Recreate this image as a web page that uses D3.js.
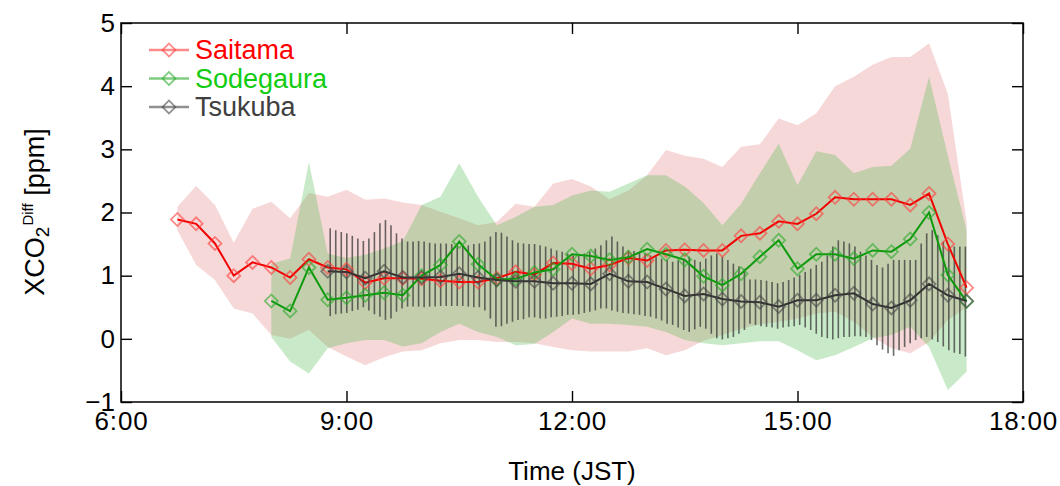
<!DOCTYPE html>
<html>
<head>
<meta charset="utf-8">
<script src="https://cdn.jsdelivr.net/npm/d3@7"></script>
<style>
  body { margin: 0; background: #fff; }
  svg { display: block; font-family: "Liberation Sans", Arial, Helvetica, sans-serif; }
</style>
</head>
<body>
<div id="chart-container"></div>
<script>
// 15 min steps, Saitama covers all of them
const times = ["6:45", "7:00", "7:15", "7:30", "7:45", "8:00", "8:15", "8:30", "8:45", "9:00",
  "9:15", "9:30", "9:45", "10:00", "10:15", "10:30", "10:45", "11:00", "11:15", "11:30",
  "11:45", "12:00", "12:15", "12:30", "12:45", "13:00", "13:15", "13:30", "13:45", "14:00",
  "14:15", "14:30", "14:45", "15:00", "15:15", "15:30", "15:45", "16:00", "16:15", "16:30",
  "16:45", "17:00", "17:15"]

const saitamaMean = [1.89, 1.82, 1.51, 1.00, 1.21, 1.13, 0.97, 1.26, 1.13, 1.10,
  0.89, 0.96, 0.96, 0.95, 0.92, 0.90, 0.90, 0.96, 1.06, 1.02,
  1.20, 1.19, 1.11, 1.17, 1.28, 1.24, 1.40, 1.41, 1.40, 1.40,
  1.63, 1.67, 1.86, 1.82, 1.98, 2.24, 2.21, 2.21, 2.21, 2.12,
  2.30, 1.50, 0.81]
const saitamaUpper = [2.09, 2.42, 2.12, 1.52, 2.06, 2.17, 1.91, 2.31, 2.25, 2.36,
  2.20, 2.22, 2.16, 2.12, 2.01, 1.91, 1.80, 1.85, 2.14, 2.09,
  2.46, 2.53, 2.41, 2.21, 2.35, 2.59, 2.99, 2.90, 2.85, 2.72,
  3.04, 3.08, 3.49, 3.38, 3.57, 4.00, 4.15, 4.34, 4.46, 4.46,
  4.68, 3.88, 1.85]
const saitamaLower = [1.72, 1.17, 0.93, 0.48, 0.40, 0.06, 0.00, 0.14, -0.13, -0.28,
  -0.42, -0.29, -0.20, -0.18, -0.07, -0.02, -0.02, -0.05, -0.05, -0.07,
  -0.13, -0.18, -0.20, -0.20, -0.20, -0.15, -0.26, -0.18, -0.03, 0.06,
  0.16, 0.23, 0.27, 0.32, 0.40, 0.43, 0.27, 0.03, -0.15, -0.23,
  -0.05, 0.30, 0.50]

// Sodegaura starts at 8:00
const sodegauraTimes = times.slice(5)
const sodegauraMean = [0.60, 0.44, 1.13, 0.62, 0.65, 0.69, 0.73, 0.69, 1.00, 1.17,
  1.54, 1.18, 0.94, 0.95, 1.05, 1.10, 1.34, 1.31, 1.25, 1.29,
  1.42, 1.34, 1.25, 0.99, 0.85, 1.03, 1.30, 1.56, 1.11, 1.34,
  1.34, 1.27, 1.40, 1.38, 1.58, 2.00, 1.01, 0.59]
const sodegauraUpper = [1.19, 1.27, 2.80, 1.35, 1.28, 1.33, 1.43, 1.55, 2.12, 2.25,
  2.78, 2.25, 1.80, 1.93, 2.09, 2.12, 2.27, 2.35, 2.33, 2.46,
  2.59, 2.59, 2.41, 2.15, 1.80, 2.14, 2.62, 3.09, 2.43, 2.97,
  2.91, 2.62, 2.72, 2.74, 3.01, 4.15, 2.90, 1.72]
const sodegauraLower = [0.03, -0.36, -0.55, -0.15, -0.07, -0.02, -0.02, -0.12, -0.07, 0.11,
  0.24, 0.11, 0.03, -0.10, -0.08, 0.11, 0.32, 0.24, 0.24, 0.22,
  0.19, 0.11, -0.02, -0.07, -0.10, -0.07, -0.04, -0.04, -0.18, -0.34,
  -0.26, -0.13, 0.01, 0.06, 0.19, -0.13, -0.81, -0.52]

// Tsukuba starts at 8:45
const tsukubaTimes = times.slice(8)
const tsukubaMean = [1.07, 1.06, 0.96, 1.07, 0.97, 0.97, 0.98, 1.03, 0.97, 0.93,
  0.91, 0.91, 0.88, 0.88, 0.87, 1.03, 0.91, 0.90, 0.79, 0.68,
  0.71, 0.63, 0.59, 0.58, 0.51, 0.61, 0.61, 0.69, 0.72, 0.55,
  0.49, 0.61, 0.87, 0.69, 0.60]

// Tsukuba spread, finer time resolution than the means
const barFirstTime = "8:47"
const barLastTime = "17:14"
const tsukubaBarTop = [1.75, 1.72, 1.69, 1.67, 1.63, 1.59, 1.55, 1.59, 1.69, 1.83,
  1.88, 1.80, 1.67, 1.59, 1.54, 1.54, 1.55, 1.54, 1.52, 1.51,
  1.51, 1.51, 1.50, 1.50, 1.48, 1.48, 1.50, 1.51, 1.54, 1.62,
  1.69, 1.68, 1.62, 1.56, 1.52, 1.51, 1.50, 1.50, 1.48, 1.46,
  1.43, 1.40, 1.38, 1.35, 1.32, 1.31, 1.35, 1.38, 1.43, 1.48,
  1.56, 1.62, 1.54, 1.46, 1.40, 1.39, 1.38, 1.35, 1.32, 1.30,
  1.27, 1.25, 1.22, 1.24, 1.27, 1.30, 1.25, 1.22, 1.27, 1.32,
  1.35, 1.30, 1.25, 1.19, 1.15, 1.11, 0.94, 0.94, 0.93, 0.92,
  0.90, 0.88, 0.90, 0.93, 0.97, 1.01, 1.06, 1.11, 1.17, 1.22,
  1.32, 1.46, 1.56, 1.54, 1.51, 1.46, 1.38, 1.32, 1.25, 1.17,
  1.13, 1.19, 1.25, 1.25, 1.25, 1.25, 1.25, 1.51, 1.67, 1.72,
  1.64, 1.54, 1.47, 1.46, 1.46, 1.46]
const tsukubaBarBottom = [0.36, 0.39, 0.40, 0.41, 0.44, 0.46, 0.50, 0.45, 0.39, 0.35,
  0.30, 0.32, 0.43, 0.48, 0.51, 0.51, 0.51, 0.50, 0.51, 0.51,
  0.52, 0.52, 0.52, 0.52, 0.52, 0.51, 0.50, 0.50, 0.45, 0.32,
  0.19, 0.20, 0.24, 0.27, 0.30, 0.31, 0.34, 0.34, 0.32, 0.32,
  0.34, 0.35, 0.36, 0.38, 0.38, 0.39, 0.41, 0.43, 0.45, 0.48,
  0.48, 0.45, 0.43, 0.41, 0.40, 0.39, 0.38, 0.36, 0.35, 0.32,
  0.29, 0.24, 0.22, 0.18, 0.14, 0.11, 0.15, 0.19, 0.16, 0.08,
  0.01, -0.01, 0.01, 0.03, 0.08, 0.14, 0.24, 0.22, 0.20, 0.19,
  0.18, 0.16, 0.18, 0.19, 0.20, 0.22, 0.18, 0.14, 0.08, 0.03,
  0.01, -0.01, 0.01, 0.03, 0.03, 0.04, 0.04, 0.03, -0.02, -0.10,
  -0.17, -0.23, -0.27, -0.18, -0.13, -0.07, -0.02, 0.01, 0.03, -0.01,
  -0.05, -0.12, -0.18, -0.22, -0.24, -0.28]

const xTicks = ["6:00", "9:00", "12:00", "15:00", "18:00"]
const yTicks = [-1, 0, 1, 2, 3, 4, 5]
const xDomain = ["6:00", "18:00"]
const yDomain = [-1, 5]

const parseTime = d3.timeParse("%H:%M")

const width = 1060
const height = 486
const margin = { top: 23, right: 37, bottom: 84, left: 121 }
const plotW = width - margin.left - margin.right
const plotH = height - margin.top - margin.bottom

const series = [
  { name: "Saitama", times: times, mean: saitamaMean, upper: saitamaUpper, lower: saitamaLower,
    line: "#f20000", marker: "rgba(255,60,60,0.6)", band: "rgb(222,90,90)", text: "#ff0000" },
  { name: "Sodegaura", times: sodegauraTimes, mean: sodegauraMean, upper: sodegauraUpper, lower: sodegauraLower,
    line: "#0c9a0c", marker: "rgba(40,170,40,0.6)", band: "rgb(60,180,60)", text: "#11cc11" },
  { name: "Tsukuba", times: tsukubaTimes, mean: tsukubaMean,
    line: "#333333", marker: "rgba(70,70,70,0.6)", text: "#404040" }
]

const svg = d3.select("#chart-container")
    .append("svg")
    .attr("width", width)
    .attr("height", height)

const g = svg.append("g")
    .attr("transform", `translate(${margin.left},${margin.top})`)

const x = d3.scaleTime()
    .domain(xDomain.map(parseTime))
    .range([0, plotW])

const y = d3.scaleLinear()
    .domain(yDomain)
    .range([plotH, 0])

// shaded spread of Saitama and Sodegaura
const area = d3.area()
    .x(d => x(d.t))
    .y0(d => y(d.lo))
    .y1(d => y(d.hi))

series.filter(s => s.upper).forEach(s => {
  const rows = s.times.map((t, i) => ({ t: parseTime(t), lo: s.lower[i], hi: s.upper[i] }))
  g.append("path")
      .datum(rows)
      .attr("d", area)
      .attr("fill", s.band)
      .attr("fill-opacity", s.name === "Saitama" ? 0.24 : 0.28)
})

// Tsukuba vertical spread bars
const barX = d3.scalePoint()
    .domain(d3.range(tsukubaBarTop.length))
    .range([x(parseTime(barFirstTime)), x(parseTime(barLastTime))])

g.append("g")
    .selectAll("line")
    .data(tsukubaBarTop.map((top, i) => ({ i: i, top: top, bottom: tsukubaBarBottom[i] })))
    .join("line")
    .attr("x1", d => barX(d.i))
    .attr("x2", d => barX(d.i))
    .attr("y1", d => y(d.top))
    .attr("y2", d => y(d.bottom))
    .attr("stroke", "#3a3a3a")
    .attr("stroke-opacity", 0.75)
    .attr("stroke-width", 1.6)

const line = d3.line()
    .x(d => x(d.t))
    .y(d => y(d.v))

const diamond = d3.symbol(d3.symbolSquare, 84)

series.forEach(s => {
  const rows = s.times.map((t, i) => ({ t: parseTime(t), v: s.mean[i] }))
  g.append("path")
      .datum(rows)
      .attr("d", line)
      .attr("fill", "none")
      .attr("stroke", s.line)
      .attr("stroke-width", 2)

  g.append("g")
      .selectAll("path")
      .data(rows)
      .join("path")
      .attr("d", diamond)
      .attr("transform", d => `translate(${x(d.t)},${y(d.v)}) rotate(45)`)
      .attr("fill", "none")
      .attr("stroke", s.marker)
      .attr("stroke-width", 1.8)
})

// frame with inward ticks on all sides
const tickLen = 11
const xTickValues = xTicks.map(parseTime)

const styleAxis = sel => {
  sel.select(".domain").remove()
  sel.selectAll(".tick line").attr("stroke", "#000").attr("stroke-width", 1.4)
  sel.selectAll("text").attr("fill", "#000").style("font-size", "26px")
}

g.append("g")
    .attr("transform", `translate(0,${plotH})`)
    .call(d3.axisBottom(x).tickValues(xTickValues).tickFormat(d3.timeFormat("%-H:%M"))
        .tickSize(-tickLen).tickPadding(10))
    .call(styleAxis)
    .call(sel => sel.selectAll("text").style("letter-spacing", "0.8px"))

g.append("g")
    .call(d3.axisTop(x).tickValues(xTickValues).tickFormat("").tickSize(-tickLen))
    .call(styleAxis)

g.append("g")
    .call(d3.axisLeft(y).tickValues(yTicks).tickFormat(d3.format("d")).tickSize(-tickLen).tickPadding(6))
    .call(styleAxis)

g.append("g")
    .attr("transform", `translate(${plotW},0)`)
    .call(d3.axisRight(y).tickValues(yTicks).tickFormat("").tickSize(-tickLen))
    .call(styleAxis)

g.append("rect")
    .attr("width", plotW)
    .attr("height", plotH)
    .attr("fill", "none")
    .attr("stroke", "#000")
    .attr("stroke-width", 1.5)

// axis titles
svg.append("text")
    .attr("x", margin.left + plotW / 2)
    .attr("y", 480)
    .attr("text-anchor", "middle")
    .style("font-size", "26px")
    .text("Time (JST)")

const yTitle = svg.append("text")
    .attr("transform", "translate(44,212) rotate(-90)")
    .attr("text-anchor", "middle")
    .style("font-size", "27px")

yTitle.append("tspan").text("XCO")
yTitle.append("tspan").attr("dy", 5).style("font-size", "19px").text("2")
yTitle.append("tspan").attr("dy", -16).attr("dx", 1).style("font-size", "15px").text("Diff")
yTitle.append("tspan").attr("dy", 11).text(" [ppm]")

// legend
const legend = svg.append("g")
    .attr("transform", "translate(149,50)")

series.forEach((s, i) => {
  const row = legend.append("g").attr("transform", `translate(0,${i * 28.5})`)
  row.append("line")
      .attr("x1", 0)
      .attr("x2", 40)
      .attr("stroke", s.marker)
      .attr("stroke-width", 2.4)
  row.append("path")
      .attr("d", diamond)
      .attr("transform", "translate(20,0) rotate(45)")
      .attr("fill", "none")
      .attr("stroke", s.marker)
      .attr("stroke-width", 1.8)
  row.append("text")
      .attr("x", 46)
      .attr("y", 9)
      .attr("fill", s.text)
      .style("font-size", "27px")
      .text(s.name)
})
</script>
</body>
</html>
